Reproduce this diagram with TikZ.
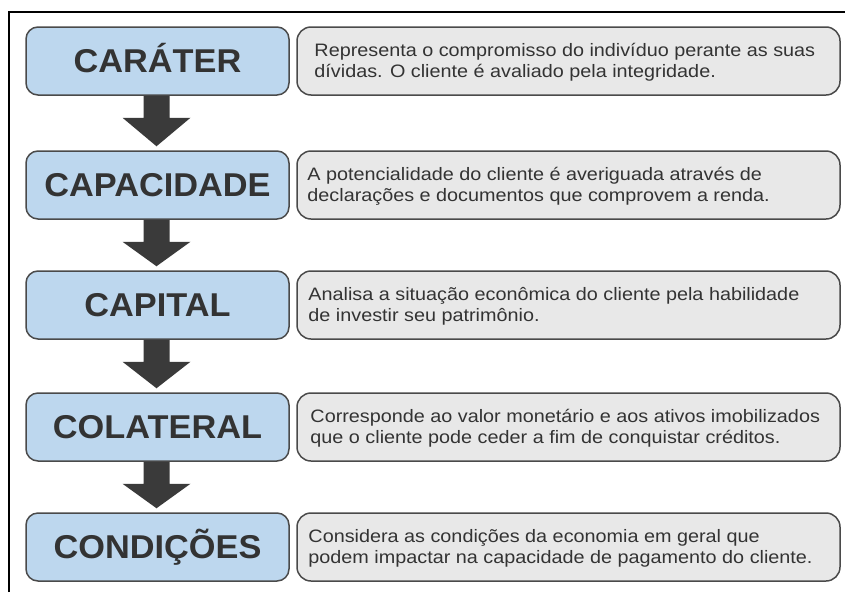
\documentclass[tikz,border=0pt]{standalone}
\usepackage{fontspec}
\setmainfont{Liberation Sans}
\usepackage{graphicx}
\usetikzlibrary{calc}
\definecolor{boxblue}{HTML}{BDD7EE}
\definecolor{boxgray}{HTML}{E8E8E8}
\definecolor{edgec}{HTML}{4A4A4A}
\definecolor{textc}{HTML}{333333}
\definecolor{arrowc}{HTML}{3A3A3A}
\newcommand{\lbl}[1]{\scalebox{1.04}[1]{#1}}
\newcommand{\twol}[2]{\vtop{\baselineskip=21pt\hbox{\scalebox{1.1}[1]{#1}}\hbox{\scalebox{1.1}[1]{#2}}}}
\begin{document}
\begin{tikzpicture}[x=1pt,y=-1pt,
  leftbox/.style={draw=edgec, line width=1.5pt, fill=boxblue, rounded corners=12pt,
    minimum width=263pt, minimum height=68pt, inner sep=0pt,
    text height=23.7pt, text depth=0pt,
    font=\fontsize{33}{33}\selectfont\bfseries, text=textc},
  rightbox/.style={draw=edgec, line width=1.5pt, fill=boxgray, rounded corners=14pt,
    minimum width=543pt, minimum height=68pt, inner sep=0pt},
  desc/.style={anchor=base west, inner sep=0pt, font=\fontsize{18}{21}\selectfont, text=textc},
  flowarrow/.style={fill=arrowc}
]
\useasboundingbox (0,0) rectangle (845,592);
\fill[white] (0,0) rectangle (845,592);
\draw[line width=2pt, black] (9,592) -- (9,12) -- (845,12);

% left boxes
\node[leftbox] (k1) at (157.5,61)  {\lbl{CARÁTER}};
\node[leftbox] (k2) at (157.5,185) {\lbl{CAPACIDADE}};
\node[leftbox] (k3) at (157.5,305) {\lbl{CAPITAL}};
\node[leftbox] (k4) at (157.5,427) {\lbl{COLATERAL}};
\node[leftbox] (k5) at (157.5,547) {\lbl{CONDIÇÕES}};

% right boxes
\node[rightbox] (d1) at (568.5,61)  {};
\node[rightbox] (d2) at (568.5,185) {};
\node[rightbox] (d3) at (568.5,305) {};
\node[rightbox] (d4) at (568.5,427) {};
\node[rightbox] (d5) at (568.5,547) {};

\node[desc] (t1) at ($(d1.north west)+(18,30)$) {\twol{Representa o compromisso do indivíduo perante as suas}{dívidas. O cliente é avaliado pela integridade.}};
\node[desc] (t2) at ($(d2.north west)+(11,30)$) {\twol{A potencialidade do cliente é averiguada através de}{declarações e documentos que comprovem a renda.}};
\node[desc] (t3) at ($(d3.north west)+(12,30)$) {\twol{Analisa a situação econômica do cliente pela habilidade}{de investir seu patrimônio.}};
\node[desc] (t4) at ($(d4.north west)+(14,30)$) {\twol{Corresponde ao valor monetário e aos ativos imobilizados}{que o cliente pode ceder a fim de conquistar créditos.}};
\node[desc] (t5) at ($(d5.north west)+(12,30)$) {\twol{Considera as condições da economia em geral que}{podem impactar na capacidade de pagamento do cliente.}};

% arrows
\foreach \a/\b in {k1/k2,k2/k3,k3/k4,k4/k5}{
  \fill[flowarrow] ($(\a.south)+(-14,0)$) -- ($(\a.south)+(-14,22)$) -- ($(\a.south)+(-35,22)$)
    -- ($(\b.north)+(-1,-4)$) -- ($(\a.south)+(33,22)$) -- ($(\a.south)+(12,22)$)
    -- ($(\a.south)+(12,0)$) -- cycle;
}
\end{tikzpicture}
\end{document}
